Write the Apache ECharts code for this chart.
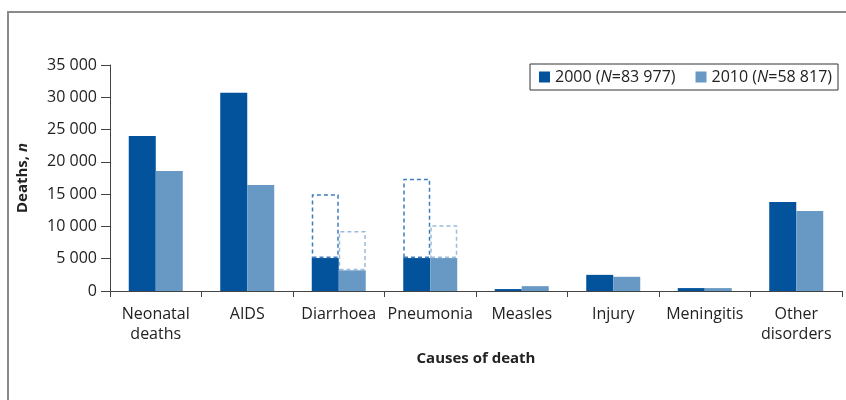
<!DOCTYPE html>
<html>
<head>
<meta charset="utf-8">
<script src="https://cdn.jsdelivr.net/npm/echarts@6/dist/echarts.min.js"></script>
<style>
html, body { margin: 0; padding: 0; background: #fff; }
#chart { width: 846px; height: 400px; }
</style>
</head>
<body>
<div id="chart"></div>
<script>
// data
var causes = ['Neonatal\ndeaths', 'AIDS', 'Diarrhoea', 'Pneumonia', 'Measles', 'Injury', 'Meningitis', 'Other\ndisorders'];
var deaths2000 = [24000, 30700, 5100, 5100, 300, 2500, 450, 13800];
var deaths2010 = [18600, 16400, 3200, 5100, 750, 2200, 450, 12400];
// dashed outline tops (upper estimate) for diarrhoea and pneumonia
var upper2000 = [null, null, 15000, 17400, null, null, null, null];
var upper2010 = [null, null, 9300, 10200, null, null, null, null];
var yTicks = [0, 5000, 10000, 15000, 20000, 25000, 30000, 35000];

var dark = '#02529c', light = '#6899c5';
var font = '"Open Sans", "Noto Sans", sans-serif';

function extra(upper, base){ //part above the solid bar
	var out = [];
	for(var i=0; i<upper.length; i++){
		out.push(upper[i] == null ? null : upper[i] - base[i]);
	}
	return out;
}
function fmt(v){
	return String(v).replace(/\B(?=(\d{3})+(?!\d))/g, ' ');
}

var option = {
	animation: false,
	textStyle: { fontFamily: font },
	graphic: [{
		type: 'rect',
		shape: { x: 8, y: 12, width: 900, height: 500 },
		style: { fill: 'none', stroke: '#8a8a8a', lineWidth: 2 },
		silent: true
	}],
	legend: {
		data: ['2000', '2010'],
		right: 8,
		top: 64,
		itemWidth: 11,
		itemHeight: 11,
		itemGap: 20,
		padding: [5, 6, 5, 9],
		borderColor: '#333',
		borderWidth: 1,
		icon: 'rect',
		formatter: function(name){
			return name == '2000' ? '{a|2000 (}{i|N}{a|=83 977)}' : '{a|2010 (}{i|N}{a|=58 817)}';
		},
		textStyle: {
			fontFamily: font,
			rich: {
				a: { fontSize: 16, color: '#222', fontFamily: font },
				i: { fontSize: 16, color: '#222', fontStyle: 'italic', fontFamily: font }
			}
		}
	},
	grid: { left: 110, right: 4, top: 65, bottom: 109 },
	xAxis: {
		type: 'category',
		data: causes,
		name: 'Causes of death',
		nameLocation: 'middle',
		nameGap: 60,
		nameTextStyle: { fontSize: 15, fontWeight: 'bold', color: '#222', fontFamily: font },
		axisLine: { lineStyle: { color: '#444', width: 1 } },
		axisTick: { show: true, length: 6, lineStyle: { color: '#444' } },
		axisLabel: { color: '#222', fontSize: 16, lineHeight: 20, margin: 13, interval: 0, fontFamily: font }
	},
	yAxis: {
		type: 'value',
		min: yTicks[0],
		max: yTicks[yTicks.length - 1],
		interval: yTicks[1] - yTicks[0],
		name: '{b|Deaths, }{bi|n}',
		nameLocation: 'middle',
		nameGap: 80,
		nameTextStyle: {
			rich: {
				b: { fontSize: 15, fontWeight: 'bold', color: '#222', fontFamily: font },
				bi: { fontSize: 15, fontWeight: 'bold', fontStyle: 'italic', color: '#222', fontFamily: font }
			}
		},
		axisLine: { show: true, lineStyle: { color: '#444', width: 1 } },
		axisTick: { show: true, length: 9, lineStyle: { color: '#444' } },
		splitLine: { show: false },
		axisLabel: { color: '#222', fontSize: 16, margin: 13, formatter: fmt, fontFamily: font }
	},
	series: [
		{ name: '2000', type: 'bar', stack: 'a', z: 3, data: deaths2000, barWidth: 27, barGap: '0%', itemStyle: { color: dark } },
		{ name: '2010', type: 'bar', stack: 'b', z: 3, data: deaths2010, barWidth: 27, barGap: '0%', itemStyle: { color: light } },
		{ name: '2000 upper', type: 'bar', stack: 'a', z: 2, data: extra(upper2000, deaths2000), barWidth: 27,
			itemStyle: { color: 'rgba(0,0,0,0)', borderColor: '#3f7cc0', borderWidth: 1.5, borderType: [4, 3] } },
		{ name: '2010 upper', type: 'bar', stack: 'b', z: 2, data: extra(upper2010, deaths2010), barWidth: 27,
			itemStyle: { color: 'rgba(0,0,0,0)', borderColor: '#9dbbdc', borderWidth: 1.5, borderType: [4, 3] } }
	]
};

var myChart = echarts.init(document.getElementById('chart'), null, { renderer: 'canvas' });
myChart.setOption(option);
</script>
</body>
</html>
